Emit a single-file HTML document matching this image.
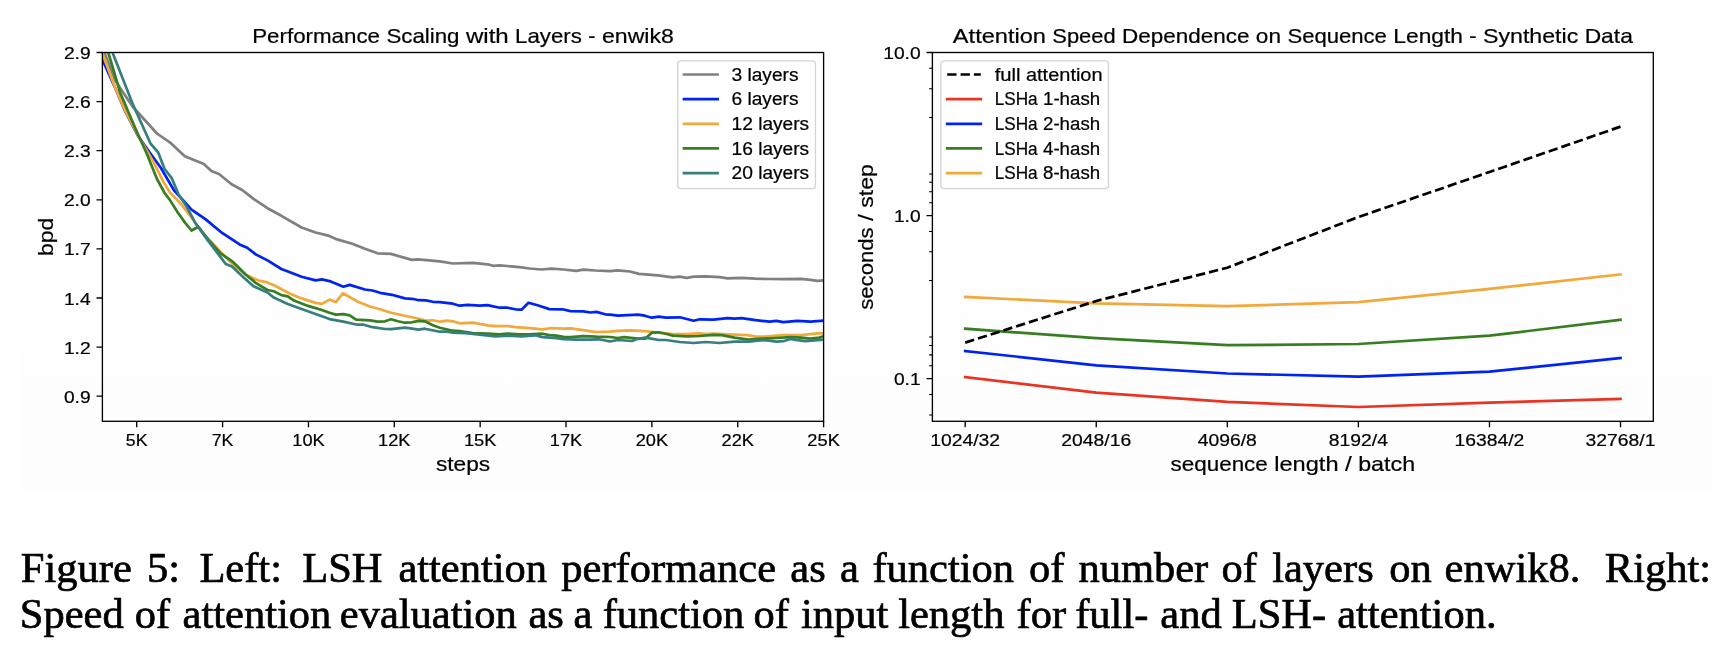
<!DOCTYPE html>
<html><head><meta charset="utf-8"><title>Figure 5</title>
<style>
html,body{margin:0;padding:0;background:#fff;}
body{width:1731px;height:652px;position:relative;overflow:hidden;font-family:"Liberation Sans",sans-serif;}
svg{position:absolute;left:0;top:0;will-change:transform;transform:translateZ(0);}
svg text{font-family:"Liberation Sans",sans-serif;}
</style></head><body>
<div id="figbg" style="position:absolute;left:21px;top:29px;width:1692px;height:464px;background:linear-gradient(#ffffff,#fdfdfd);"></div>
<svg width="1731" height="652" viewBox="0 0 1731 652">
<clipPath id="cl"><rect x="102.4" y="52.5" width="721.2" height="368.8"/></clipPath>
<g clip-path="url(#cl)">
<path d="M102.6,48.0 L104.6,53.0 L115.2,80.4 L132.9,107.0 L157.0,133.5 L170.9,143.2 L184.8,156.3 L203.8,163.9 L211.4,171.0 L219.0,174.0 L231.6,184.2 L242.2,190.0 L253.5,198.9 L267.5,208.2 L281.4,215.8 L301.6,227.5 L315.6,232.5 L328.2,235.6 L337.1,239.4 L352.3,243.7 L364.9,248.7 L377.6,253.3 L391.0,253.9 L411.9,259.9 L417.9,259.3 L439.8,261.3 L452.8,263.5 L472.7,262.9 L487.6,264.3 L493.6,265.9 L499.6,265.3 L519.5,267.1 L529.5,268.5 L541.5,269.5 L551.4,268.7 L563.4,269.5 L576.3,270.9 L583.3,269.7 L595.3,270.5 L610.0,271.1 L617.9,270.3 L629.9,271.5 L638.9,273.9 L657.8,275.4 L672.8,277.4 L679.7,276.6 L686.7,277.8 L693.7,276.6 L705.6,276.4 L719.6,277.2 L727.6,278.4 L741.5,277.8 L755.5,278.6 L769.4,279.0 L783.4,279.2 L801.3,278.8 L810.3,279.8 L817.3,280.8 L823.6,280.4" fill="none" stroke="#808080" stroke-width="2.70" stroke-linejoin="round" stroke-linecap="square"/>
<path d="M100.7,55.0 L103.2,61.4 L115.6,89.0 L125.5,112.0 L138.0,136.0 L150.6,153.8 L160.8,167.7 L173.8,190.0 L191.5,209.7 L205.4,219.1 L220.6,231.8 L239.6,244.4 L247.2,247.7 L256.1,254.6 L267.5,260.4 L281.4,269.0 L301.6,276.8 L315.6,280.4 L321.9,279.4 L329.5,281.1 L343.4,286.7 L349.7,284.9 L364.9,289.5 L372.5,290.5 L380.0,292.8 L392.0,294.8 L404.9,298.4 L411.9,298.8 L418.9,300.2 L425.8,300.4 L432.8,301.8 L439.8,302.2 L452.8,303.7 L459.7,305.7 L467.7,304.9 L479.7,305.7 L487.6,305.1 L499.6,307.7 L507.6,307.7 L515.5,309.3 L521.5,309.7 L528.5,302.8 L537.5,305.3 L549.4,309.1 L562.4,309.3 L570.4,311.1 L583.3,311.3 L590.3,312.5 L596.3,311.9 L605.2,314.3 L610.0,314.7 L617.9,315.7 L637.9,314.7 L644.8,315.7 L651.8,317.7 L658.8,316.7 L665.8,317.7 L679.7,317.3 L693.7,320.7 L699.7,319.3 L713.6,319.7 L727.6,318.1 L734.5,318.7 L741.5,318.1 L755.5,320.1 L769.4,321.7 L776.4,320.9 L783.4,322.1 L797.3,320.9 L810.3,321.7 L823.6,320.7" fill="none" stroke="#0023f5" stroke-width="2.70" stroke-linejoin="round" stroke-linecap="square"/>
<path d="M100.5,48.0 L103.0,55.0 L115.2,88.0 L125.3,110.8 L140.5,139.9 L153.2,161.4 L163.3,181.6 L170.0,192.5 L180.0,202.7 L191.5,217.8 L202.9,233.0 L220.6,252.0 L233.3,264.7 L245.9,274.8 L258.6,280.6 L267.5,282.4 L275.0,285.7 L289.0,293.3 L301.6,298.4 L315.6,302.9 L321.9,303.9 L329.5,299.6 L335.8,302.2 L342.9,293.3 L357.3,301.4 L370.0,306.5 L380.0,309.3 L391.0,312.7 L404.9,315.7 L418.9,318.7 L425.8,320.7 L432.8,320.3 L439.8,321.7 L446.8,320.7 L452.8,321.3 L459.7,323.3 L472.7,322.7 L487.6,325.3 L495.6,326.1 L507.6,326.1 L515.5,327.1 L529.5,328.1 L542.4,329.3 L551.4,328.1 L563.4,328.7 L570.4,328.3 L583.3,330.1 L596.3,332.1 L610.0,331.7 L617.9,330.9 L629.9,330.3 L644.8,331.1 L657.8,332.7 L672.8,334.0 L686.7,334.0 L699.7,333.3 L705.6,334.0 L713.6,333.7 L727.6,334.4 L747.5,335.2 L755.5,336.6 L765.4,336.6 L783.4,335.2 L801.3,335.2 L817.3,333.3 L823.6,333.3" fill="none" stroke="#f2a93b" stroke-width="2.70" stroke-linejoin="round" stroke-linecap="square"/>
<path d="M106.5,46.0 L108.4,53.0 L120.3,93.0 L135.4,128.5 L146.8,153.8 L157.0,179.0 L164.6,193.0 L170.0,200.1 L177.6,212.3 L185.2,222.9 L191.5,230.5 L198.4,226.7 L208.0,239.4 L220.6,253.3 L233.3,262.2 L245.9,274.8 L256.1,283.2 L267.5,290.0 L273.8,291.3 L281.4,295.1 L287.7,296.3 L294.0,300.6 L308.0,305.9 L321.9,310.0 L329.5,312.8 L335.8,314.6 L343.4,314.1 L349.7,315.3 L356.1,319.6 L370.0,320.4 L377.6,321.6 L385.0,321.3 L391.0,319.3 L397.9,321.3 L404.9,322.7 L411.9,322.3 L418.9,320.9 L424.8,321.3 L432.8,325.3 L439.8,327.7 L452.8,330.7 L459.7,331.1 L472.7,333.1 L487.6,333.7 L499.6,334.3 L507.6,333.7 L519.5,334.3 L529.5,334.3 L542.4,333.7 L549.4,335.1 L556.4,335.7 L563.4,336.9 L570.4,337.1 L583.3,336.1 L596.3,336.7 L610.0,337.0 L617.9,338.0 L623.9,337.2 L637.9,338.6 L645.4,338.6 L651.8,332.7 L658.8,332.3 L665.8,333.7 L672.8,335.6 L686.7,336.4 L699.7,336.0 L713.6,334.8 L721.6,335.2 L734.5,337.6 L748.5,339.6 L762.4,338.6 L776.4,338.0 L790.4,337.2 L801.3,337.6 L810.3,338.6 L819.3,337.6 L823.6,336.2" fill="none" stroke="#377e22" stroke-width="2.70" stroke-linejoin="round" stroke-linecap="square"/>
<path d="M110.3,46.0 L112.7,53.0 L132.9,104.4 L150.6,143.7 L158.2,152.5 L164.6,169.0 L171.6,177.8 L178.5,194.3 L186.5,206.5 L195.3,222.9 L208.0,240.6 L225.7,263.9 L232.0,266.5 L243.4,277.3 L253.5,286.2 L267.5,292.5 L273.8,297.6 L287.7,303.9 L301.6,309.0 L315.6,314.1 L329.5,319.1 L343.4,321.6 L357.3,324.7 L363.7,324.7 L372.5,327.2 L385.2,329.0 L391.0,329.1 L404.9,327.7 L418.9,329.7 L424.8,328.7 L439.8,331.7 L446.8,331.7 L452.8,332.7 L465.7,333.1 L479.7,334.7 L495.6,336.3 L507.6,335.7 L521.5,336.3 L535.5,335.3 L542.4,337.1 L556.4,338.1 L563.4,339.1 L576.3,339.7 L590.3,339.7 L599.2,339.3 L610.0,341.5 L617.9,340.0 L631.9,341.0 L637.9,338.8 L645.4,337.6 L658.8,340.0 L665.8,340.0 L679.7,342.0 L693.7,343.0 L705.6,342.0 L719.6,343.0 L734.5,341.6 L748.5,341.6 L762.4,340.2 L769.4,340.6 L776.4,341.6 L783.4,341.2 L790.4,339.0 L797.3,340.2 L805.3,341.2 L817.3,340.2 L823.6,339.6" fill="none" stroke="#377e7f" stroke-width="2.70" stroke-linejoin="round" stroke-linecap="square"/>
</g>
<text y="445.90" font-size="17.11" fill="#000" stroke="#000" stroke-width="0.22"><tspan x="125.88" textLength="21.72" lengthAdjust="spacingAndGlyphs">5K</tspan></text>
<text y="445.90" font-size="17.11" fill="#000" stroke="#000" stroke-width="0.22"><tspan x="211.74" textLength="21.72" lengthAdjust="spacingAndGlyphs">7K</tspan></text>
<text y="445.90" font-size="17.11" fill="#000" stroke="#000" stroke-width="0.22"><tspan x="292.25" textLength="32.41" lengthAdjust="spacingAndGlyphs">10K</tspan></text>
<text y="445.90" font-size="17.11" fill="#000" stroke="#000" stroke-width="0.22"><tspan x="378.11" textLength="32.41" lengthAdjust="spacingAndGlyphs">12K</tspan></text>
<text y="445.90" font-size="17.11" fill="#000" stroke="#000" stroke-width="0.22"><tspan x="463.96" textLength="32.41" lengthAdjust="spacingAndGlyphs">15K</tspan></text>
<text y="445.90" font-size="17.11" fill="#000" stroke="#000" stroke-width="0.22"><tspan x="549.82" textLength="32.41" lengthAdjust="spacingAndGlyphs">17K</tspan></text>
<text y="445.90" font-size="17.11" fill="#000" stroke="#000" stroke-width="0.22"><tspan x="635.68" textLength="32.41" lengthAdjust="spacingAndGlyphs">20K</tspan></text>
<text y="445.90" font-size="17.11" fill="#000" stroke="#000" stroke-width="0.22"><tspan x="721.54" textLength="32.41" lengthAdjust="spacingAndGlyphs">22K</tspan></text>
<text y="445.90" font-size="17.11" fill="#000" stroke="#000" stroke-width="0.22"><tspan x="807.39" textLength="32.41" lengthAdjust="spacingAndGlyphs">25K</tspan></text>
<text y="59.00" font-size="17.11" fill="#000" stroke="#000" stroke-width="0.22"><tspan x="63.90" textLength="26.73" lengthAdjust="spacingAndGlyphs">2.9</tspan></text>
<text y="108.10" font-size="17.11" fill="#000" stroke="#000" stroke-width="0.22"><tspan x="63.90" textLength="26.73" lengthAdjust="spacingAndGlyphs">2.6</tspan></text>
<text y="157.20" font-size="17.11" fill="#000" stroke="#000" stroke-width="0.22"><tspan x="63.90" textLength="26.73" lengthAdjust="spacingAndGlyphs">2.3</tspan></text>
<text y="206.30" font-size="17.11" fill="#000" stroke="#000" stroke-width="0.22"><tspan x="63.90" textLength="26.73" lengthAdjust="spacingAndGlyphs">2.0</tspan></text>
<text y="255.40" font-size="17.11" fill="#000" stroke="#000" stroke-width="0.22"><tspan x="63.90" textLength="26.73" lengthAdjust="spacingAndGlyphs">1.7</tspan></text>
<text y="304.50" font-size="17.11" fill="#000" stroke="#000" stroke-width="0.22"><tspan x="63.90" textLength="26.73" lengthAdjust="spacingAndGlyphs">1.4</tspan></text>
<text y="353.60" font-size="17.11" fill="#000" stroke="#000" stroke-width="0.22"><tspan x="63.90" textLength="26.73" lengthAdjust="spacingAndGlyphs">1.2</tspan></text>
<text y="402.70" font-size="17.11" fill="#000" stroke="#000" stroke-width="0.22"><tspan x="63.90" textLength="26.73" lengthAdjust="spacingAndGlyphs">0.9</tspan></text>
<path d="M136.74,421.3 v5.88 M222.60,421.3 v5.88 M308.46,421.3 v5.88 M394.31,421.3 v5.88 M480.17,421.3 v5.88 M566.03,421.3 v5.88 M651.89,421.3 v5.88 M737.74,421.3 v5.88 M823.60,421.3 v5.88 M102.4,52.50 h-5.88 M102.4,101.60 h-5.88 M102.4,150.70 h-5.88 M102.4,199.80 h-5.88 M102.4,248.90 h-5.88 M102.4,298.00 h-5.88 M102.4,347.10 h-5.88 M102.4,396.20 h-5.88" stroke="#000" stroke-width="1.34" fill="none"/>
<rect x="102.4" y="52.5" width="721.2" height="368.8" fill="none" stroke="#000" stroke-width="1.34"/>
<text y="42.50" font-size="20.98" fill="#000" stroke="#000" stroke-width="0.22"><tspan x="252.20" textLength="127.83" lengthAdjust="spacingAndGlyphs">Performance</tspan> <tspan x="386.45" textLength="73.06" lengthAdjust="spacingAndGlyphs">Scaling</tspan> <tspan x="465.92" textLength="42.80" lengthAdjust="spacingAndGlyphs">with</tspan> <tspan x="515.13" textLength="66.75" lengthAdjust="spacingAndGlyphs">Layers</tspan> <tspan x="588.29" textLength="7.28" lengthAdjust="spacingAndGlyphs">-</tspan> <tspan x="601.98" textLength="71.82" lengthAdjust="spacingAndGlyphs">enwik8</tspan></text>
<text y="470.70" font-size="20.98" fill="#000" stroke="#000" stroke-width="0.22"><tspan x="435.93" textLength="54.14" lengthAdjust="spacingAndGlyphs">steps</tspan></text>
<text y="236.90" font-size="20.98" transform="rotate(-90 53.30 236.90)" fill="#000" stroke="#000" stroke-width="0.22"><tspan x="34.09" textLength="38.41" lengthAdjust="spacingAndGlyphs">bpd</tspan></text>
<rect x="677.7" y="60.9" width="137.8" height="127.8" rx="3.4" fill="#fff" fill-opacity="0.8" stroke="#d4d4d4" stroke-width="1.34"/>
<path d="M684.0,74.5 h33.6" stroke="#808080" stroke-width="2.70" stroke-linecap="square"/>
<text y="80.70" font-size="17.48" fill="#000" stroke="#000" stroke-width="0.22"><tspan x="731.49" textLength="10.70" lengthAdjust="spacingAndGlyphs">3</tspan> <tspan x="747.53" textLength="50.93" lengthAdjust="spacingAndGlyphs">layers</tspan></text>
<path d="M684.0,99.2 h33.6" stroke="#0023f5" stroke-width="2.70" stroke-linecap="square"/>
<text y="105.35" font-size="17.48" fill="#000" stroke="#000" stroke-width="0.22"><tspan x="731.49" textLength="10.70" lengthAdjust="spacingAndGlyphs">6</tspan> <tspan x="747.53" textLength="50.93" lengthAdjust="spacingAndGlyphs">layers</tspan></text>
<path d="M684.0,123.8 h33.6" stroke="#f2a93b" stroke-width="2.70" stroke-linecap="square"/>
<text y="130.00" font-size="17.48" fill="#000" stroke="#000" stroke-width="0.22"><tspan x="731.49" textLength="21.39" lengthAdjust="spacingAndGlyphs">12</tspan> <tspan x="758.23" textLength="50.93" lengthAdjust="spacingAndGlyphs">layers</tspan></text>
<path d="M684.0,148.4 h33.6" stroke="#377e22" stroke-width="2.70" stroke-linecap="square"/>
<text y="154.65" font-size="17.48" fill="#000" stroke="#000" stroke-width="0.22"><tspan x="731.49" textLength="21.39" lengthAdjust="spacingAndGlyphs">16</tspan> <tspan x="758.23" textLength="50.93" lengthAdjust="spacingAndGlyphs">layers</tspan></text>
<path d="M684.0,173.1 h33.6" stroke="#377e7f" stroke-width="2.70" stroke-linecap="square"/>
<text y="179.30" font-size="17.48" fill="#000" stroke="#000" stroke-width="0.22"><tspan x="731.49" textLength="21.39" lengthAdjust="spacingAndGlyphs">20</tspan> <tspan x="758.23" textLength="50.93" lengthAdjust="spacingAndGlyphs">layers</tspan></text>
<path d="M965.2,377.1 L1096.2,392.6 L1227.3,401.9 L1358.4,407.0 L1489.5,402.7 L1620.5,398.9" fill="none" stroke="#ea3323" stroke-width="2.70" stroke-linejoin="round" stroke-linecap="square"/>
<path d="M965.2,351.0 L1096.2,365.3 L1227.3,373.5 L1358.4,376.6 L1489.5,371.6 L1620.5,358.0" fill="none" stroke="#0023f5" stroke-width="2.70" stroke-linejoin="round" stroke-linecap="square"/>
<path d="M965.2,328.7 L1096.2,338.2 L1227.3,345.2 L1358.4,344.0 L1489.5,335.7 L1620.5,319.8" fill="none" stroke="#377e22" stroke-width="2.70" stroke-linejoin="round" stroke-linecap="square"/>
<path d="M965.2,296.9 L1096.2,303.3 L1227.3,306.2 L1358.4,302.1 L1489.5,288.9 L1620.5,274.4" fill="none" stroke="#f2a93b" stroke-width="2.70" stroke-linejoin="round" stroke-linecap="square"/>
<path d="M965.2,342.6 L1096.2,301.0 L1227.3,267.7 L1358.4,217.0 L1489.5,172.0 L1620.5,126.6" fill="none" stroke="#000" stroke-width="2.70" stroke-dasharray="9.33 4.03" stroke-linejoin="round"/>
<text y="445.90" font-size="17.11" fill="#000" stroke="#000" stroke-width="0.22"><tspan x="930.25" textLength="69.84" lengthAdjust="spacingAndGlyphs">1024/32</tspan></text>
<text y="445.90" font-size="17.11" fill="#000" stroke="#000" stroke-width="0.22"><tspan x="1061.32" textLength="69.84" lengthAdjust="spacingAndGlyphs">2048/16</tspan></text>
<text y="445.90" font-size="17.11" fill="#000" stroke="#000" stroke-width="0.22"><tspan x="1197.74" textLength="59.14" lengthAdjust="spacingAndGlyphs">4096/8</tspan></text>
<text y="445.90" font-size="17.11" fill="#000" stroke="#000" stroke-width="0.22"><tspan x="1328.82" textLength="59.14" lengthAdjust="spacingAndGlyphs">8192/4</tspan></text>
<text y="445.90" font-size="17.11" fill="#000" stroke="#000" stroke-width="0.22"><tspan x="1454.54" textLength="69.84" lengthAdjust="spacingAndGlyphs">16384/2</tspan></text>
<text y="445.90" font-size="17.11" fill="#000" stroke="#000" stroke-width="0.22"><tspan x="1585.61" textLength="69.84" lengthAdjust="spacingAndGlyphs">32768/1</tspan></text>
<text y="59.00" font-size="17.11" fill="#000" stroke="#000" stroke-width="0.22"><tspan x="883.20" textLength="37.43" lengthAdjust="spacingAndGlyphs">10.0</tspan></text>
<text y="222.10" font-size="17.11" fill="#000" stroke="#000" stroke-width="0.22"><tspan x="893.90" textLength="26.73" lengthAdjust="spacingAndGlyphs">1.0</tspan></text>
<text y="385.20" font-size="17.11" fill="#000" stroke="#000" stroke-width="0.22"><tspan x="893.90" textLength="26.73" lengthAdjust="spacingAndGlyphs">0.1</tspan></text>
<path d="M965.17,421.3 v5.88 M1096.24,421.3 v5.88 M1227.31,421.3 v5.88 M1358.39,421.3 v5.88 M1489.46,421.3 v5.88 M1620.53,421.3 v5.88 M932.4,52.50 h-5.88 M932.4,215.60 h-5.88 M932.4,378.70 h-5.88" stroke="#000" stroke-width="1.34" fill="none"/>
<path d="M932.4,202.69 h-3.36 M932.4,191.77 h-3.36 M932.4,182.31 h-3.36 M932.4,173.97 h-3.36 M932.4,117.40 h-3.36 M932.4,88.68 h-3.36 M932.4,68.31 h-3.36 M932.4,365.79 h-3.36 M932.4,354.87 h-3.36 M932.4,345.41 h-3.36 M932.4,337.07 h-3.36 M932.4,280.50 h-3.36 M932.4,251.78 h-3.36 M932.4,231.41 h-3.36 M932.4,414.88 h-3.36 M932.4,394.51 h-3.36" stroke="#000" stroke-width="1.01" fill="none"/>
<rect x="932.4" y="52.5" width="720.9" height="368.8" fill="none" stroke="#000" stroke-width="1.34"/>
<text y="42.50" font-size="20.98" fill="#000" stroke="#000" stroke-width="0.22"><tspan x="952.86" textLength="93.10" lengthAdjust="spacingAndGlyphs">Attention</tspan> <tspan x="1052.38" textLength="63.23" lengthAdjust="spacingAndGlyphs">Speed</tspan> <tspan x="1122.02" textLength="127.45" lengthAdjust="spacingAndGlyphs">Dependence</tspan> <tspan x="1255.88" textLength="25.13" lengthAdjust="spacingAndGlyphs">on</tspan> <tspan x="1287.42" textLength="99.50" lengthAdjust="spacingAndGlyphs">Sequence</tspan> <tspan x="1393.34" textLength="69.58" lengthAdjust="spacingAndGlyphs">Length</tspan> <tspan x="1469.33" textLength="7.28" lengthAdjust="spacingAndGlyphs">-</tspan> <tspan x="1483.02" textLength="95.24" lengthAdjust="spacingAndGlyphs">Synthetic</tspan> <tspan x="1584.67" textLength="48.17" lengthAdjust="spacingAndGlyphs">Data</tspan></text>
<text y="470.70" font-size="20.98" fill="#000" stroke="#000" stroke-width="0.22"><tspan x="1170.60" textLength="97.21" lengthAdjust="spacingAndGlyphs">sequence</tspan> <tspan x="1274.22" textLength="64.30" lengthAdjust="spacingAndGlyphs">length</tspan> <tspan x="1344.94" textLength="6.80" lengthAdjust="spacingAndGlyphs">/</tspan> <tspan x="1358.15" textLength="56.95" lengthAdjust="spacingAndGlyphs">batch</tspan></text>
<text y="236.90" font-size="20.98" transform="rotate(-90 873.00 236.90)" fill="#000" stroke="#000" stroke-width="0.22"><tspan x="800.15" textLength="82.45" lengthAdjust="spacingAndGlyphs">seconds</tspan> <tspan x="889.01" textLength="6.80" lengthAdjust="spacingAndGlyphs">/</tspan> <tspan x="902.22" textLength="43.63" lengthAdjust="spacingAndGlyphs">step</tspan></text>
<rect x="940.9" y="60.9" width="167.6" height="127.8" rx="3.4" fill="#fff" fill-opacity="0.8" stroke="#d4d4d4" stroke-width="1.34"/>
<path d="M947.2,74.5 h33.6" stroke="#000" stroke-width="2.70" stroke-dasharray="9.33 4.03"/>
<text y="80.70" font-size="17.48" fill="#000" stroke="#000" stroke-width="0.22"><tspan x="994.69" textLength="25.91" lengthAdjust="spacingAndGlyphs">full</tspan> <tspan x="1025.95" textLength="76.68" lengthAdjust="spacingAndGlyphs">attention</tspan></text>
<path d="M947.2,99.2 h33.6" stroke="#ea3323" stroke-width="2.70" stroke-linecap="square"/>
<text y="105.35" font-size="17.48" fill="#000" stroke="#000" stroke-width="0.22"><tspan x="994.69" textLength="42.98" lengthAdjust="spacingAndGlyphs">LSHa</tspan> <tspan x="1043.01" textLength="57.13" lengthAdjust="spacingAndGlyphs">1-hash</tspan></text>
<path d="M947.2,123.8 h33.6" stroke="#0023f5" stroke-width="2.70" stroke-linecap="square"/>
<text y="130.00" font-size="17.48" fill="#000" stroke="#000" stroke-width="0.22"><tspan x="994.69" textLength="42.98" lengthAdjust="spacingAndGlyphs">LSHa</tspan> <tspan x="1043.01" textLength="57.13" lengthAdjust="spacingAndGlyphs">2-hash</tspan></text>
<path d="M947.2,148.4 h33.6" stroke="#377e22" stroke-width="2.70" stroke-linecap="square"/>
<text y="154.65" font-size="17.48" fill="#000" stroke="#000" stroke-width="0.22"><tspan x="994.69" textLength="42.98" lengthAdjust="spacingAndGlyphs">LSHa</tspan> <tspan x="1043.01" textLength="57.13" lengthAdjust="spacingAndGlyphs">4-hash</tspan></text>
<path d="M947.2,173.1 h33.6" stroke="#f2a93b" stroke-width="2.70" stroke-linecap="square"/>
<text y="179.30" font-size="17.48" fill="#000" stroke="#000" stroke-width="0.22"><tspan x="994.69" textLength="42.98" lengthAdjust="spacingAndGlyphs">LSHa</tspan> <tspan x="1043.01" textLength="57.13" lengthAdjust="spacingAndGlyphs">8-hash</tspan></text>
<text y="582.0" font-size="42.5" style="font-family:'Liberation Serif',serif" fill="#000" stroke="#000" stroke-width="0.7" stroke-linejoin="round" xml:space="preserve"><tspan x="20.8">Figure</tspan> <tspan x="147.1">5:</tspan> <tspan x="199.4">Left:</tspan> <tspan x="302.2">LSH</tspan> <tspan x="398.4">attention</tspan> <tspan x="561.3">performance</tspan> <tspan x="790.3">as</tspan> <tspan x="839.9">a</tspan> <tspan x="872.4">function</tspan> <tspan x="1028.9">of</tspan> <tspan x="1078.4">number</tspan> <tspan x="1221.6">of</tspan> <tspan x="1272.2">layers</tspan> <tspan x="1389.2">on</tspan> <tspan x="1444.6">enwik8.</tspan> <tspan x="1604.8">Right:</tspan></text>
<text y="628.1" font-size="42.5" style="font-family:'Liberation Serif',serif" fill="#000" stroke="#000" stroke-width="0.7" stroke-linejoin="round" xml:space="preserve"><tspan x="19.8">Speed</tspan> <tspan x="134.7">of</tspan> <tspan x="182.6">attention</tspan> <tspan x="339.8">evaluation</tspan> <tspan x="528.4">as</tspan> <tspan x="573.5">a</tspan> <tspan x="602.7">function</tspan> <tspan x="753.4">of</tspan> <tspan x="801.0">input</tspan> <tspan x="898.2">length</tspan> <tspan x="1016.5">for</tspan> <tspan x="1075.2">full-</tspan> <tspan x="1160.3">and</tspan> <tspan x="1231.7">LSH-</tspan> <tspan x="1337.2">attention.</tspan></text>
</svg>
</body></html>
